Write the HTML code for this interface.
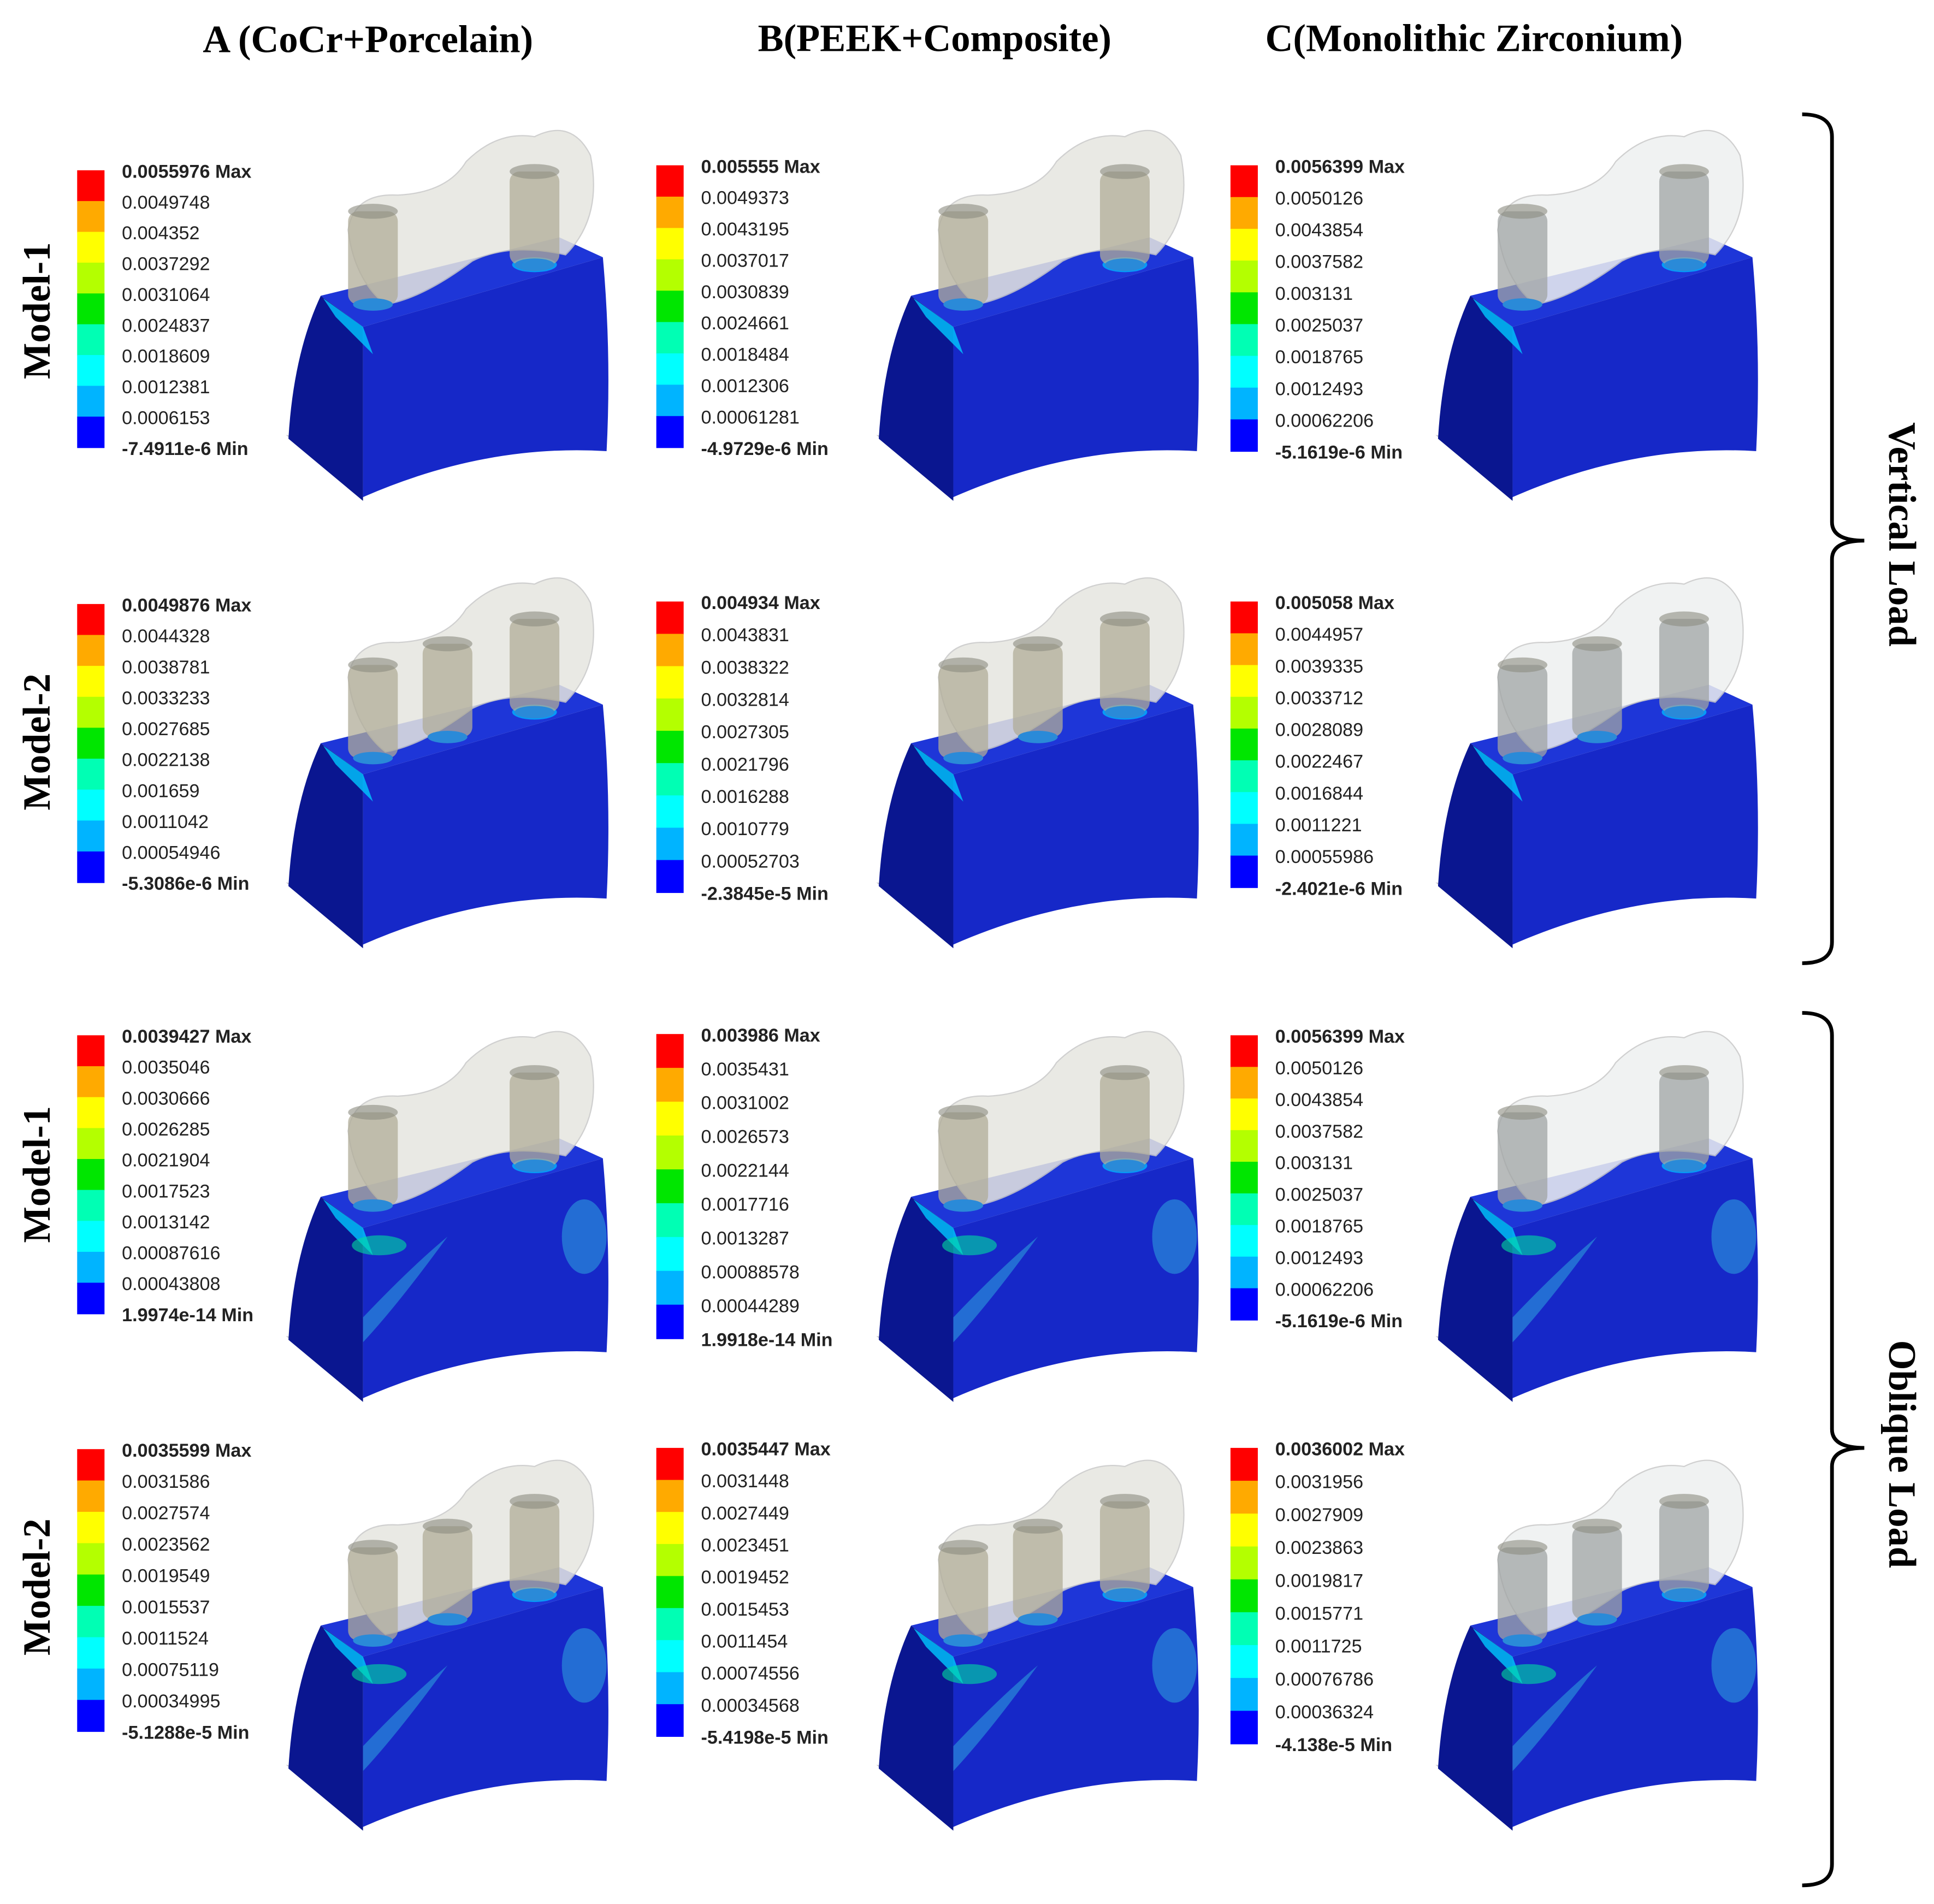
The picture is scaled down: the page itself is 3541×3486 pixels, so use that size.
<!DOCTYPE html>
<html><head><meta charset="utf-8"><style>
html,body{margin:0;padding:0;background:#fff}
svg{display:block}
</style></head><body>
<svg id="fig" xmlns="http://www.w3.org/2000/svg" width="3541" height="3486" viewBox="0 0 1556 1532">
<rect width="1556" height="1532" fill="#fff"/>
<g font-family="Liberation Serif, serif" font-weight="bold" font-size="31" fill="#000" text-anchor="middle">
<text x="296" y="42">A (CoCr+Porcelain)</text>
<text x="752" y="41">B(PEEK+Composite)</text>
<text x="1186" y="41">C(Monolithic Zirconium)</text>
<text transform="translate(40,250) rotate(-90)">Model-1</text>
<text transform="translate(40,597) rotate(-90)">Model-2</text>
<text transform="translate(40,945) rotate(-90)">Model-1</text>
<text transform="translate(40,1277) rotate(-90)">Model-2</text>
<text transform="translate(1520,430) rotate(90)">Vertical Load</text>
<text transform="translate(1520,1170) rotate(90)">Oblique Load</text>
</g>
<path d="M1450,92 Q1474,92 1474,110 L1474,420 Q1474,435 1500,435 Q1474,435 1474,450 L1474,758 Q1474,775 1450,775" fill="none" stroke="#000" stroke-width="3"/>
<path d="M1450,815 Q1474,815 1474,833 L1474,1150 Q1474,1165 1500,1165 Q1474,1165 1474,1180 L1474,1500 Q1474,1517 1450,1517" fill="none" stroke="#000" stroke-width="3"/>
<g id="panels"></g>
</svg>
<script>
const legendValues = [
 ["0.0055976 Max","0.0049748","0.004352","0.0037292","0.0031064","0.0024837","0.0018609","0.0012381","0.0006153","-7.4911e-6 Min"],
 ["0.005555 Max","0.0049373","0.0043195","0.0037017","0.0030839","0.0024661","0.0018484","0.0012306","0.00061281","-4.9729e-6 Min"],
 ["0.0056399 Max","0.0050126","0.0043854","0.0037582","0.003131","0.0025037","0.0018765","0.0012493","0.00062206","-5.1619e-6 Min"],
 ["0.0049876 Max","0.0044328","0.0038781","0.0033233","0.0027685","0.0022138","0.001659","0.0011042","0.00054946","-5.3086e-6 Min"],
 ["0.004934 Max","0.0043831","0.0038322","0.0032814","0.0027305","0.0021796","0.0016288","0.0010779","0.00052703","-2.3845e-5 Min"],
 ["0.005058 Max","0.0044957","0.0039335","0.0033712","0.0028089","0.0022467","0.0016844","0.0011221","0.00055986","-2.4021e-6 Min"],
 ["0.0039427 Max","0.0035046","0.0030666","0.0026285","0.0021904","0.0017523","0.0013142","0.00087616","0.00043808","1.9974e-14 Min"],
 ["0.003986 Max","0.0035431","0.0031002","0.0026573","0.0022144","0.0017716","0.0013287","0.00088578","0.00044289","1.9918e-14 Min"],
 ["0.0056399 Max","0.0050126","0.0043854","0.0037582","0.003131","0.0025037","0.0018765","0.0012493","0.00062206","-5.1619e-6 Min"],
 ["0.0035599 Max","0.0031586","0.0027574","0.0023562","0.0019549","0.0015537","0.0011524","0.00075119","0.00034995","-5.1288e-5 Min"],
 ["0.0035447 Max","0.0031448","0.0027449","0.0023451","0.0019452","0.0015453","0.0011454","0.00074556","0.00034568","-5.4198e-5 Min"],
 ["0.0036002 Max","0.0031956","0.0027909","0.0023863","0.0019817","0.0015771","0.0011725","0.00076786","0.00036324","-4.138e-5 Min"]
];
const barColors = ["#ff0000","#ffaa00","#ffff00","#b4ff00","#00e600","#00ffb4","#00ffff","#00b4ff","#0000ff"];
const NS="http://www.w3.org/2000/svg";
const root=document.getElementById('panels');
function mk(tag,attrs,parent){const e=document.createElementNS(NS,tag);for(const k in attrs)e.setAttribute(k,attrs[k]);(parent||root).appendChild(e);return e;}
const barX=[62,528,990], barTop=[[137,133,133],[486,484,484],[833,832,833],[1166,1165,1165]], barBot=[[360,360,363],[710,718,714],[1057,1077,1062],[1393,1397,1403]];
const modelX=[230,705,1155], modelY=[95,455,820,1165];
for(let r=0;r<4;r++)for(let c=0;c<3;c++){
 const idx=r*3+c, vals=legendValues[idx];
 const g=mk('g',{});
 
 
 const t=barTop[r][c], b=barBot[r][c], h=(b-t)/9, x=barX[c];
 for(let i=0;i<9;i++){
  const s=mk('rect',{x:x,y:t+i*h,width:22,height:h+0.5,fill:barColors[i]},g);
  
  
 }
 const lx=x+36, step=(b-t+2)/9.2;
 for(let i=0;i<10;i++){
  const tx=mk('text',{x:lx,y:t+6+i*(b-t)/9,'font-family':'Liberation Sans, sans-serif','font-size':15,'font-weight':(i==0||i==9)?'bold':'normal',fill:'#222'},g);
  tx.textContent=vals[i];
  
  
 }
 // model
 const mg=mk('g',{transform:'translate('+modelX[c]+','+modelY[r]+')'},g);
 
 
 mk('polygon',{points:'0,255 62,308 62,262',fill:'#c8c8cc'},mg);
 mk('path',{d:'M28,143 L62,168 L62,308 L2,258 Q6,190 28,143Z',fill:'#0a1690'},mg);
 mk('path',{d:'M28,143 L62,168 L255,112 L220,96Z',fill:'#1e36d8'},mg);
 mk('path',{d:'M62,168 L255,112 Q262,190 258,268 Q160,262 62,305Z',fill:'#1628c8'},mg);
 mk('path',{d:'M30,145 L62,168 L70,190 L40,160Z',fill:'#00c8ff',opacity:0.8},mg);
 mk('ellipse',{cx:200,cy:118,rx:18,ry:6,fill:'#00b4ff',opacity:0.8},mg);
 if(r>=2){
  mk('path',{d:'M62,240 Q100,200 130,175 Q90,230 62,260Z',fill:'#2a8ad8',opacity:0.7},mg);
  mk('ellipse',{cx:240,cy:175,rx:18,ry:30,fill:'#2a8ad8',opacity:0.7},mg);
  mk('ellipse',{cx:75,cy:182,rx:22,ry:8,fill:'#00e0a0',opacity:0.6},mg);
 }
 // crown
 const n=(r==1||r==3)?3:2;
 const crownFill = c==2 ? '#eef0f0' : '#e6e6e0';
 mk('path',{d:'M50,90 Q55,60 90,62 Q130,60 145,35 Q170,10 200,15 Q230,0 245,30 Q255,80 225,110 Q180,100 150,115 Q110,145 80,150 Q55,130 50,90Z',fill:crownFill,opacity:0.85,stroke:'#c8c8c8','stroke-width':1},mg);
 for(let k=0;k<n;k++){
  const cx = n==2 ? [70,200][k] : [70,130,200][k], cy = n==2 ? [150,118][k] : [155,138,118][k];
  mk('rect',{x:cx-20,y:cy-75,width:40,height:75,rx:8,fill:c==2?'#a0a4a4':'#b0ac98',opacity:0.75},mg);
  mk('ellipse',{cx:cx,cy:cy-75,rx:20,ry:6,fill:'#8c8c80',opacity:0.6},mg);
  mk('ellipse',{cx:cx,cy:cy,rx:16,ry:5,fill:'#2a8ad8'},mg);
 }
}
</script>
</body></html>
